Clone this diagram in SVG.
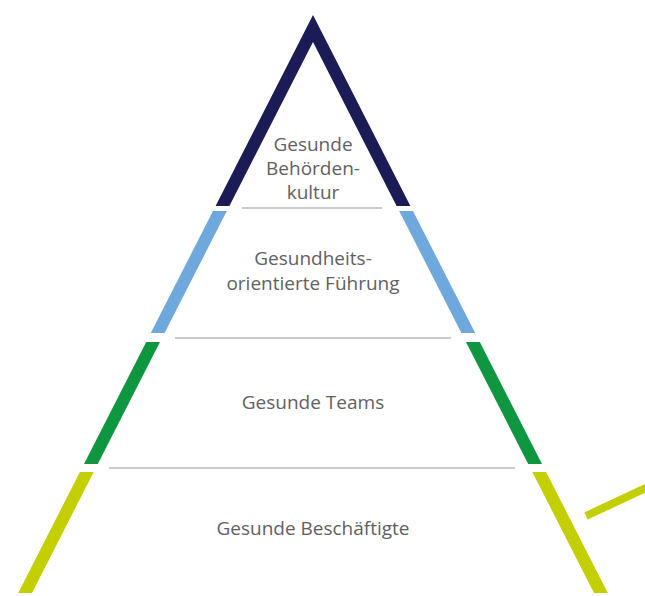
<svg xmlns="http://www.w3.org/2000/svg" width="645" height="596" viewBox="0 0 645 596">
<style>
.t{font-family:"Open Sans","Liberation Sans",sans-serif;font-size:19px;fill:#616161;text-anchor:middle}
.sep{stroke:#cacaca;stroke-width:2;fill:none}
</style>
<rect width="645" height="596" fill="#ffffff"/>
<g id="level-culture">
<polygon points="313,15 410.4,206 396.6,206 313,42 229.4,206 215.6,206" fill="#1b1c56"/>
<text class="t" x="313" y="151">Gesunde</text>
<text class="t" x="313" y="175">Behörden-</text>
<text class="t" x="313" y="199">kultur</text>
</g>
<g id="level-leadership">
<polygon points="213,211 226.8,211 164.6,333 150.8,333" fill="#6fa8dd"/>
<polygon points="413,211 399.2,211 461.4,333 475.2,333" fill="#6fa8dd"/>
<text class="t" x="313" y="265">Gesundheits-</text>
<text class="t" x="313" y="290">orientierte Führung</text>
</g>
<g id="level-teams">
<polygon points="146.2,342 160,342 97.8,464 84,464" fill="#0f9640"/>
<polygon points="479.8,342 466,342 528.2,464 542,464" fill="#0f9640"/>
<text class="t" x="313" y="409">Gesunde Teams</text>
</g>
<g id="level-employees">
<polygon points="79.9,472 93.7,472 32,593 18.2,593" fill="#c3cf00"/>
<polygon points="546.1,472 532.3,472 594,593 607.8,593" fill="#c3cf00"/>
<text class="t" x="313" y="535">Gesunde Beschäftigte</text>
</g>
<g id="connectors">
<line class="sep" x1="242" y1="208" x2="382" y2="208"/>
<line class="sep" x1="175" y1="338" x2="451" y2="338"/>
<line class="sep" x1="109" y1="468" x2="515" y2="468"/>
<line x1="586" y1="516" x2="650" y2="486" stroke="#c3cf00" stroke-width="8"/>
</g>
</svg>
